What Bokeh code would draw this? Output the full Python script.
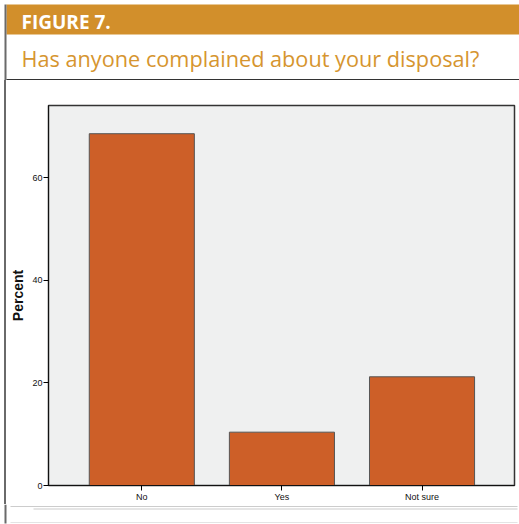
from bokeh.plotting import figure
from bokeh.models import Range1d, FixedTicker
from bokeh.core.properties import value
from bokeh.embed import file_html
from bokeh.resources import INLINE

# ---- data ----
categories = ["No", "Yes", "Not sure"]
percent = [68.6, 10.4, 21.2]
y_ticks = [0, 20, 40, 60]
fig_label = "FIGURE 7."
title_text = "Has anyone complained about your disposal?"
y_label = "Percent"

ORANGE = "#D28F2B"
BAR = "#CD5F28"
BORDER = "#6a6a6a"
W = 519

def blank(width, height):
    f = figure(width=width, height=height, output_backend="svg", toolbar_location=None,
               x_axis_type=None, y_axis_type=None, min_border=0,
               x_range=Range1d(0, width), y_range=Range1d(height, 0))
    f.outline_line_color = None
    f.background_fill_color = "white"
    f.border_fill_color = "white"
    f.grid.visible = False
    return f

# header (page y 0..80)
hdr = blank(W, 80)
hdr.quad(left=[6], right=[W], top=[4], bottom=[34], fill_color=ORANGE, line_color=None)
hdr.quad(left=[4], right=[6], top=[4], bottom=[80], fill_color=BORDER, line_color=None)
hdr.text(x=[21], y=[21], text=[fig_label], text_color="white", text_font=value("Open Sans"),
         text_font_style="bold", text_font_size="19px", text_baseline="alphabetic")
hdr.text(x=[21], y=[58], text=[title_text], text_color="#D6952F", text_font=value("Open Sans"),
         text_font_size="21.7px", text_baseline="alphabetic")
hdr.quad(left=[6], right=[W], top=[78.5], bottom=[80], fill_color="#333333", line_color=None)

# main chart (page y 80..504); CSS left border at page x 4..6, canvas from x 6
idx = list(range(len(categories)))
p = figure(width=W - 8, height=424, output_backend="svg", toolbar_location=None,
           x_range=Range1d(-0.666, 2.66), y_range=Range1d(0, 74.1),
           min_border_left=42, min_border_right=5, min_border_top=25, min_border_bottom=17,
           styles={"margin-left": "4px", "border-left": f"2px solid {BORDER}", "box-sizing": "content-box"})
p.background_fill_color = "#EFF0F0"
p.border_fill_color = "white"
p.outline_line_color = "#333333"
p.outline_line_width = 1.5
p.grid.visible = False
p.vbar(x=idx, top=percent, width=0.75, bottom=0, fill_color=BAR, line_color="#555555", line_width=1)

xa = p.xaxis[0]
xa.ticker = FixedTicker(ticks=idx)
xa.major_label_overrides = {i: c for i, c in zip(idx, categories)}
xa.minor_tick_line_color = None
xa.major_tick_in = 0
xa.major_tick_out = 5
xa.major_label_standoff = 1
xa.major_label_text_font = "Liberation Sans"
xa.major_label_text_font_size = "9px"
xa.major_label_text_color = "#111111"
xa.axis_line_color = "#111111"

ya = p.yaxis[0]
ya.ticker = FixedTicker(ticks=y_ticks)
ya.minor_tick_line_color = None
ya.major_tick_in = 0
ya.major_tick_out = 5
ya.major_label_standoff = 1
ya.major_label_text_font = "Liberation Sans"
ya.major_label_text_font_size = "9px"
ya.major_label_text_color = "#111111"
ya.axis_line_color = "#111111"
ya.axis_label = y_label
ya.axis_label_text_font = "Liberation Sans"
ya.axis_label_text_font_style = "bold"
ya.axis_label_text_font_size = "14px"
ya.axis_label_text_color = "#111111"
ya.axis_label_standoff = 3

# footer (page y 504..524)
ftr = blank(W, 20)
ftr.quad(left=[4], right=[6], top=[0], bottom=[19], fill_color=BORDER, line_color=None)
ftr.segment(x0=[10, 33, 10], x1=[517, 517, 517], y0=[2, 4.5, 18], y1=[2, 4.5, 18],
            line_color=["#cccccc", "#cccccc", "#e4e4e4"], line_width=1.2)

open("out.html", "w").write(file_html([hdr, p, ftr], INLINE))
